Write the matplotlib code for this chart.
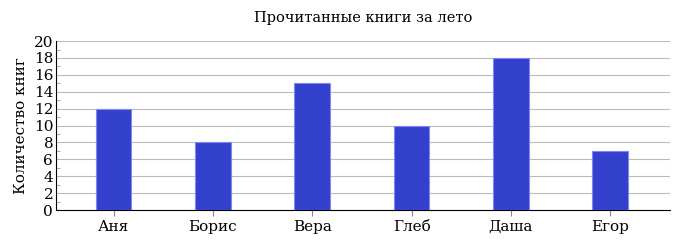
import matplotlib.pyplot as plt
from matplotlib.ticker import MultipleLocator

names = ["Аня", "Борис", "Вера", "Глеб", "Даша", "Егор"]
books = [12, 8, 15, 10, 18, 7]

plt.rcParams["font.family"] = ["DejaVu Serif"]

fig = plt.figure(figsize=(6.78, 2.46), dpi=100)
ax = fig.add_axes([0.0826, 0.146, 0.9054, 0.687])

x = range(len(names))
ax.bar(x, books, width=0.36, color="#3340cc", edgecolor="#7f8af0", linewidth=0.8, zorder=3)

ax.set_xlim(-0.58, 5.6)
ax.set_ylim(0, 20)
ax.set_xticks(list(x))
ax.set_xticklabels(names, fontsize=11)
ax.yaxis.set_major_locator(MultipleLocator(2))
ax.yaxis.set_minor_locator(MultipleLocator(1))
ax.tick_params(axis="y", which="major", labelsize=11, length=0, pad=2)
ax.tick_params(axis="y", which="minor", direction="in", length=3, color="#999999")
ax.tick_params(axis="x", length=4, color="#888888", width=0.8, pad=3)

ax.grid(axis="y", which="major", color="#bbbbbb", linewidth=0.8, zorder=0)
for s in ["top", "right"]:
    ax.spines[s].set_visible(False)
ax.spines["left"].set_linewidth(0.8)
ax.spines["bottom"].set_linewidth(0.8)

ax.set_ylabel("Количество книг", fontsize=11, labelpad=4)
ax.set_title("Прочитанные книги за лето", fontsize=10.5, pad=14)

fig.savefig("out.png", dpi=100)
